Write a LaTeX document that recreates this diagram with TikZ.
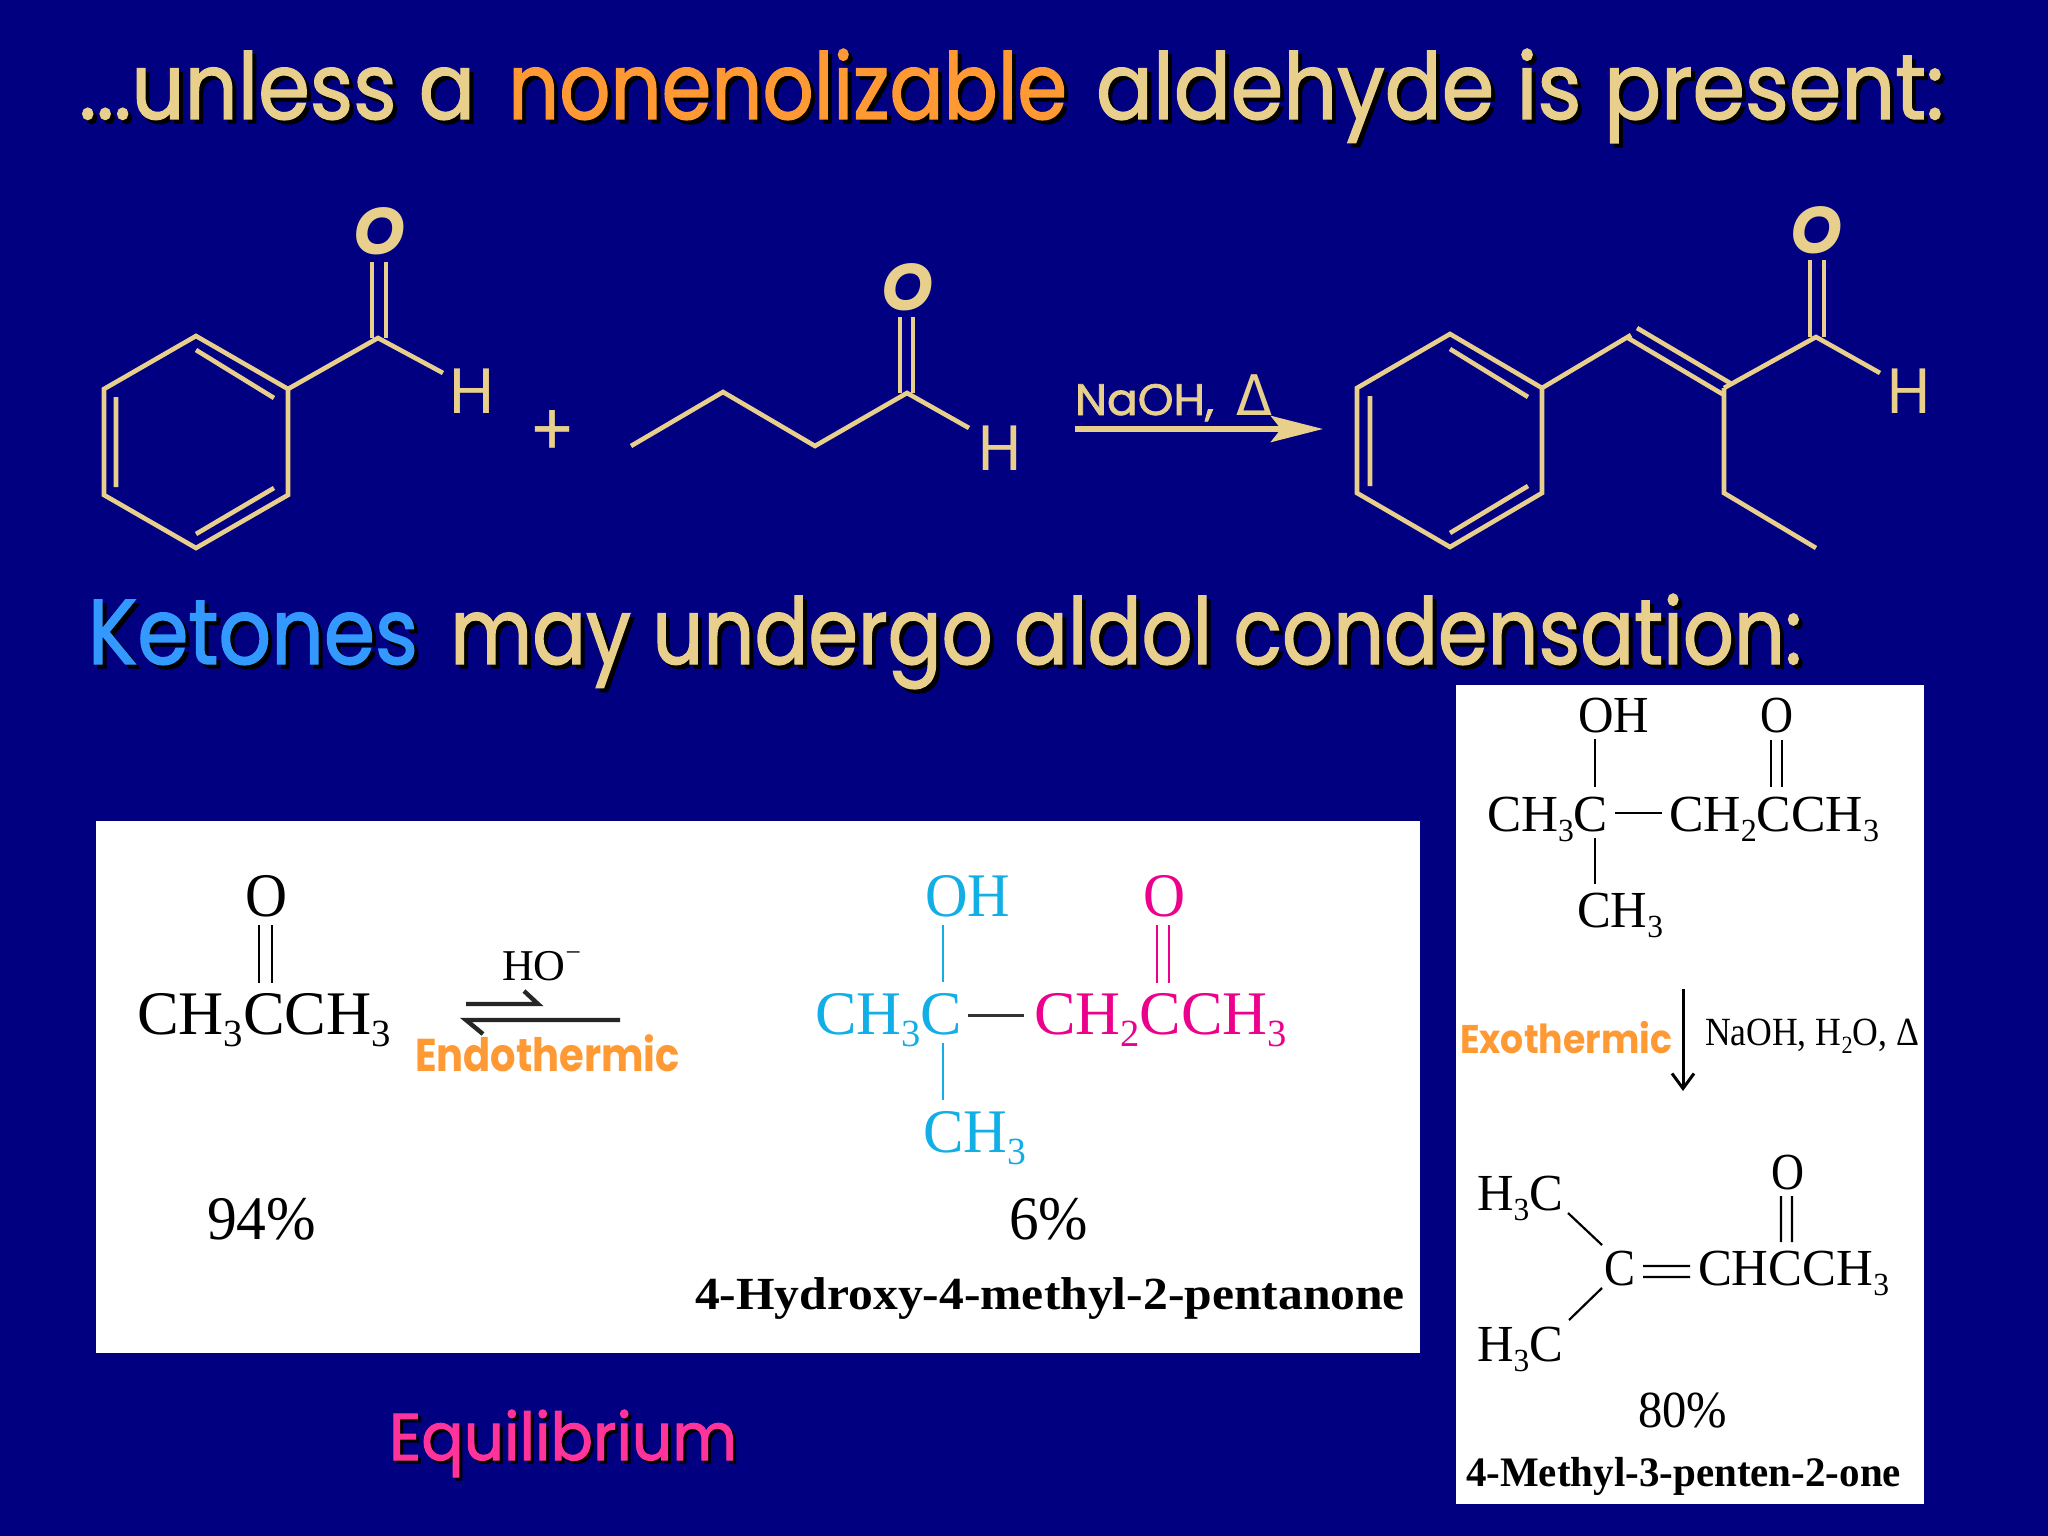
\documentclass[tikz,border=0pt]{standalone}
\usepackage{fontspec}
\usepackage{graphicx}
\usetikzlibrary{arrows.meta,calc}
\setmainfont{Liberation Serif}
\newfontfamily\comic{Poppins}
\newfontfamily\comich[FakeBold=1.6]{Poppins}
\newfontfamily\symfont{DejaVu Sans}
\definecolor{navy}{HTML}{000080}
\definecolor{tan}{HTML}{E8D08C}
\definecolor{orng}{HTML}{FF9933}
\definecolor{skyb}{HTML}{3399FF}
\definecolor{pinkk}{HTML}{FF3399}
\definecolor{cyn}{HTML}{12AEE6}
\definecolor{mgt}{HTML}{EC008C}
\newcommand\dn[1]{\raisebox{-.2em}{\scalebox{.62}{#1}}}
\newcommand\fnt[1]{\fontsize{#1}{#1}\selectfont}
% name, x, baseline, width, font, colour, text
\newcommand\lbl[7]{\node[txt,text=#6] (#1) at (#2,#3) {\resizebox{#4pt}{\height}{#5#7}};}
\newcommand\slbl[8]{\node[txt,text=black] (#1s) at ($(#2,#3)+(#8,#8)$) {\resizebox{#4pt}{\height}{#5#7}};\lbl{#1}{#2}{#3}{#4}{#5}{#6}{#7}}
\tikzset{
  txt/.style={anchor=base west,inner sep=0pt,outer sep=0pt},
  bond/.style={draw=tan,line width=4.6pt,line cap=butt,line join=miter},
  pbond/.style={line width=2.2pt,line cap=butt},
  panel/.style={fill=white,draw=none}
}
\begin{document}
\begin{tikzpicture}[x=1pt,y=-1pt]
\fill[navy] (0,0) rectangle (2048,1536);
\useasboundingbox (0,0) rectangle (2048,1536);
% titles
\slbl{t1a}{79}{119}{396}{\comich\fnt{92}}{tan}{...unless a}{4}
\slbl{t1b}{508}{119}{559}{\comich\fnt{92}}{orng}{nonenolizable}{4}
\slbl{t1c}{1096}{119}{848}{\comich\fnt{92}}{tan}{aldehyde is present:}{4}
\slbl{t2a}{88}{664}{330}{\comich\fnt{92}}{skyb}{Ketones}{4}
\slbl{t2b}{450}{664}{1352}{\comich\fnt{92}}{tan}{may undergo aldol condensation:}{4}
\slbl{eq}{389}{1460}{348}{\comich\fnt{66}}{pinkk}{Equilibrium}{3}
% benzaldehyde
\foreach \n/\x/\y in {a1/196/336,a2/288/389,a3/288/495,a4/196/548,a5/104/495,a6/104/389,a7/378/338,a8/443/373,
  i1/196/350,i2/274/398,i3/274/488,i4/196/534,i5/116/397,i6/116/487,
  o1/372/262,o2/372/338,o3/386/262,o4/386/338}
  \coordinate (\n) at (\x,\y);
\draw[bond] (a1)--(a2)--(a3)--(a4)--(a5)--(a6)--cycle;
\draw[bond] (i1)--(i2) (i3)--(i4) (i5)--(i6);
\draw[bond] (a2)--(a7)--(a8);
\draw[bond] (o1)--(o2) (o3)--(o4);
\lbl{oa}{353}{254}{52}{\comic\itshape\bfseries\fnt{66}}{tan}{O}
\lbl{ha}{449}{413}{45}{\comic\fnt{64}}{tan}{H}
\node[inner sep=0pt,text=tan,anchor=center] (plus) at (552,433) {\resizebox{46pt}{46pt}{\comic\fnt{60}+}};
% butanal
\foreach \n/\x/\y in {b1/631/446,b2/723/392,b3/815/446,b4/907/393,b5/969/428,p1/900/317,p2/900/393,p3/913/317,p4/913/393}
  \coordinate (\n) at (\x,\y);
\draw[bond] (b1)--(b2)--(b3)--(b4)--(b5);
\draw[bond] (p1)--(p2) (p3)--(p4);
\lbl{ob}{881}{310}{52}{\comic\itshape\bfseries\fnt{66}}{tan}{O}
\lbl{hb}{978}{470}{43}{\comic\fnt{64}}{tan}{H}
% reaction arrow
\lbl{cond}{1075}{415}{139}{\comich\fnt{44}}{tan}{NaOH,}
\lbl{del}{1236}{415}{36}{\symfont\fnt{56}}{tan}{Δ}
\coordinate (ra) at (1075,429);
\coordinate (rb) at (1323,429);
\draw[draw=tan,line width=6pt,-{Stealth[length=52pt,width=26pt,inset=10pt,fill=tan]}] (ra)--(rb);
% product
\foreach \n/\x/\y in {c1/1450/334,c2/1542/388,c3/1542/493,c4/1450/547,c5/1357/493,c6/1357/388,
  c7/1631/335,c8/1724/388,c9/1816/337,c10/1880/373,c11/1724/493,c12/1816/548,
  j1/1450/349,j2/1528/397,j3/1528/486,j4/1450/533,j5/1370/396,j6/1370/486,
  d1/1637/328,d2/1730/383,d3/1628/338,d4/1724/395,
  q1/1810/260,q2/1810/337,q3/1824/260,q4/1824/337}
  \coordinate (\n) at (\x,\y);
\draw[bond] (c1)--(c2)--(c3)--(c4)--(c5)--(c6)--cycle;
\draw[bond] (j1)--(j2) (j3)--(j4) (j5)--(j6);
\draw[bond] (c2)--(c7) (d1)--(d2) (d3)--(d4);
\draw[bond] (c8)--(c9)--(c10);
\draw[bond] (c8)--(c11)--(c12);
\draw[bond] (q1)--(q2) (q3)--(q4);
\lbl{oc}{1790}{253}{52}{\comic\itshape\bfseries\fnt{66}}{tan}{O}
\lbl{hc}{1887}{413}{43}{\comic\fnt{64}}{tan}{H}
% left panel
\path[panel] (96,821) rectangle (1420,1353);
\lbl{l-o}{245}{916}{42}{\fnt{62}}{black}{O}
\foreach \n/\x/\y in {e1/259/925,e2/259/983,e3/272/925,e4/272/983}
  \coordinate (\n) at (\x,\y);
\draw[pbond] (e1)--(e2) (e3)--(e4);
\lbl{l-ace}{137}{1034}{254}{\fnt{62}}{black}{CH\dn{3}CCH\dn{3}}
\lbl{l-ho}{502}{980}{79}{\fnt{44}}{black}{HO\raisebox{.42em}{\scalebox{.62}{\char"2212}}}
\foreach \n/\x/\y in {f1/466/1004,f2/538/1004,f3/524/991,f4/620/1020,f5/466/1020,f6/483/1034}
  \coordinate (\n) at (\x,\y);
\draw[line width=4.4pt,line join=miter,draw=black!85] (f1)--(f2)--(f3);
\draw[line width=4.4pt,line join=miter,draw=black!85] (f4)--(f5)--(f6);
\lbl{endo}{415}{1071}{265}{\comic\bfseries\fnt{46}}{orng}{Endothermic}
\lbl{l-oh}{925}{916}{85}{\fnt{62}}{cyn}{OH}
\lbl{l-o2}{1143}{916}{42}{\fnt{62}}{mgt}{O}
\foreach \n/\x/\y in {g1/943/925,g2/943/982,g3/943/1043,g4/943/1100,g5/1157/925,g6/1157/983,g7/1169/925,g8/1169/983,g9/968/1015,g10/1024/1015}
  \coordinate (\n) at (\x,\y);
\draw[pbond,draw=cyn] (g1)--(g2) (g3)--(g4);
\draw[pbond,draw=mgt] (g5)--(g6) (g7)--(g8);
\draw[line width=3pt,draw=black!80] (g9)--(g10);
\lbl{l-ch}{815}{1034}{147}{\fnt{62}}{cyn}{CH\dn{3}C}
\lbl{l-cc}{1034}{1034}{253}{\fnt{62}}{mgt}{CH\dn{2}CCH\dn{3}}
\lbl{l-me}{923}{1152}{103}{\fnt{62}}{cyn}{CH\dn{3}}
\lbl{l-94}{207}{1239}{109}{\fnt{62}}{black}{94\%}
\lbl{l-6}{1009}{1239}{79}{\fnt{62}}{black}{6\%}
\lbl{l-nm}{695}{1309}{710}{\bfseries\fnt{46}}{black}{4-Hydroxy-4-methyl-2-pentanone}
% right panel
\path[panel] (1456,685) rectangle (1924,1504);
\lbl{r-oh}{1578}{732}{71}{\fnt{52}}{black}{OH}
\lbl{r-o}{1760}{732}{33}{\fnt{52}}{black}{O}
\foreach \n/\x/\y in {h1/1595/739,h2/1595/787,h3/1595/838,h4/1595/884,h5/1771/740,h6/1771/787,h7/1782/740,h8/1782/787,h9/1615/813,h10/1662/813}
  \coordinate (\n) at (\x,\y);
\draw[pbond] (h1)--(h2) (h3)--(h4) (h5)--(h6) (h7)--(h8) (h9)--(h10);
\lbl{r-ch}{1487}{831}{121}{\fnt{52}}{black}{CH\dn{3}C}
\lbl{r-cc}{1669}{831}{210}{\fnt{52}}{black}{CH\dn{2}CCH\dn{3}}
\lbl{r-me}{1577}{927}{86}{\fnt{52}}{black}{CH\dn{3}}
\coordinate (ka) at (1683,989);
\coordinate (kb) at (1683,1091);
\draw[line width=3pt,-{Straight Barb[length=15pt,width=22pt]}] (ka)--(kb);
\lbl{exo}{1460}{1053}{212}{\comic\bfseries\fnt{40}}{orng}{Exothermic}
\lbl{r-na}{1705}{1045}{214}{\fnt{40}}{black}{NaOH, H\dn{2}O, Δ}
\lbl{r-o2}{1771}{1189}{33}{\fnt{52}}{black}{O}
\foreach \n/\x/\y in {m1/1781/1196,m2/1781/1242,m3/1792/1196,m4/1792/1242,m5/1643/1266,m6/1690/1266,m7/1643/1277,m8/1690/1277,m9/1568/1213,m10/1602/1245,m11/1602/1288,m12/1569/1320}
  \coordinate (\n) at (\x,\y);
\draw[pbond] (m1)--(m2) (m3)--(m4) (m5)--(m6) (m7)--(m8) (m9)--(m10) (m11)--(m12);
\lbl{r-h1}{1477}{1210}{86}{\fnt{52}}{black}{H\dn{3}C}
\lbl{r-c}{1604}{1285}{31}{\fnt{52}}{black}{C}
\lbl{r-chc}{1698}{1285}{191}{\fnt{52}}{black}{CHCCH\dn{3}}
\lbl{r-h2}{1477}{1361}{86}{\fnt{52}}{black}{H\dn{3}C}
\lbl{r-80}{1638}{1427}{89}{\fnt{52}}{black}{80\%}
\lbl{r-nm}{1466}{1486}{435}{\bfseries\fnt{42}}{black}{4-Methyl-3-penten-2-one}
\end{tikzpicture}
\end{document}
